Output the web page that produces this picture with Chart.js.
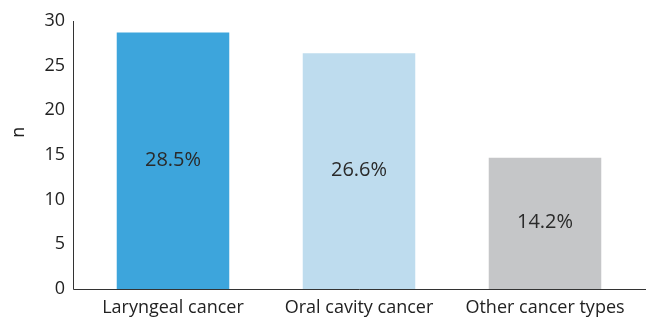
<!DOCTYPE html>
<html><head><meta charset="utf-8">
<script src="https://cdn.jsdelivr.net/npm/chart.js@4/dist/chart.umd.min.js"></script>
<style>html,body{margin:0;padding:0;background:#fff}#wrap{width:646px;height:319px}</style>
</head><body><div id="wrap"><canvas id="c" width="646" height="319"></canvas></div>
<script>
const categories = ["Laryngeal cancer", "Oral cavity cancer", "Other cancer types"];
const counts = [28.7, 26.4, 14.7];
const percentLabels = ["28.5%", "26.6%", "14.2%"];
const barColors = ["#3DA5DC", "#BEDCEE", "#C5C6C8"];
const yTicks = [0, 5, 10, 15, 20, 25, 30];
const yTitle = "n";
const FONT = "'Open Sans', sans-serif";

const axisLines = {
  id: 'axisLines',
  afterDraw(chart) {
    const ctx = chart.ctx, a = chart.chartArea;
    const x0 = Math.round(a.left - 7.5) + 0.5;
    const y0 = Math.round(a.bottom) + 0.5;
    ctx.save();
    ctx.strokeStyle = '#333';
    ctx.lineWidth = 1;
    ctx.beginPath();
    ctx.moveTo(x0, a.top);
    ctx.lineTo(x0, y0);
    ctx.lineTo(chart.width, y0);
    ctx.stroke();
    // y-axis title
    ctx.translate(19, a.top + (a.bottom - a.top) * 0.415);
    ctx.rotate(-Math.PI / 2);
    ctx.fillStyle = '#222';
    ctx.font = "18px " + FONT;
    ctx.textAlign = 'center';
    ctx.textBaseline = 'middle';
    ctx.fillText(yTitle, 0, 0);
    ctx.restore();
  }
};
const barLabels = {
  id: 'barLabels',
  afterDatasetsDraw(chart) {
    const ctx = chart.ctx;
    const meta = chart.getDatasetMeta(0);
    ctx.save();
    ctx.fillStyle = '#2a2a2a';
    ctx.font = "20px " + FONT;
    ctx.textAlign = 'center';
    ctx.textBaseline = 'middle';
    meta.data.forEach((el, i) => {
      ctx.fillText(percentLabels[i], el.x, (el.y + el.base) / 2 - 1);
    });
    ctx.restore();
  }
};

new Chart(document.getElementById('c'), {
  type: 'bar',
  data: {
    labels: categories,
    datasets: [{ data: counts, backgroundColor: barColors, borderWidth: 0,
      barPercentage: 1, categoryPercentage: 0.605 }]
  },
  options: {
    responsive: false, animation: false,
    layout: { padding: { top: 21, right: 8, left: 0, bottom: 0 } },
    plugins: { legend: { display: false }, tooltip: { enabled: false } },
    scales: {
      x: {
        grid: { display: false, drawTicks: false },
        border: { display: false },
        ticks: { color: '#222', font: { family: FONT, size: 18 }, padding: 8, maxRotation: 0 },
        afterFit(s) { s.height = 30; s.paddingLeft = 0; s.paddingRight = 0; }
      },
      y: {
        min: 0, max: 30,
        afterBuildTicks(s) { s.ticks = yTicks.map(v => ({ value: v })); },
        grid: { display: false, drawTicks: false },
        border: { display: false },
        ticks: { color: '#222', font: { family: FONT, size: 18 }, padding: 15 },
        afterFit(s) { s.width = 80; s.paddingTop = 0; s.paddingBottom = 0; }
      }
    }
  },
  plugins: [axisLines, barLabels]
});
</script></body></html>
